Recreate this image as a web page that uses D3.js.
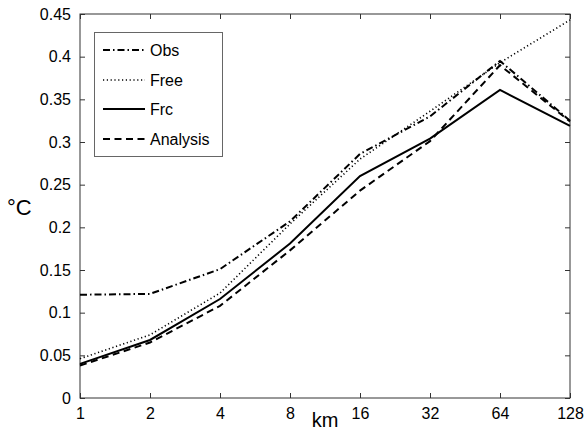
<!DOCTYPE html>
<html>
<head>
<meta charset="utf-8">
<script src="https://cdn.jsdelivr.net/npm/d3@7"></script>
<style>
  body { margin: 0; background: #fff; }
  text { font-family: "Liberation Sans", Arial, sans-serif; fill: #000; }
</style>
</head>
<body>
<svg id="chart" width="586" height="439"></svg>
<script>
// Horizontal scale (km), equally spaced on a log2 axis
const scales = ["1", "2", "4", "8", "16", "32", "64", "128"];

// Temperature error (°C) for each experiment
const obs      = [0.121, 0.122, 0.151, 0.207, 0.286, 0.330, 0.395, 0.325];
const free     = [0.046, 0.074, 0.123, 0.204, 0.280, 0.336, 0.393, 0.443];
const frc      = [0.040, 0.068, 0.116, 0.181, 0.260, 0.304, 0.361, 0.319];
const analysis = [0.038, 0.065, 0.108, 0.173, 0.243, 0.301, 0.390, 0.324];

const yTicks = [0, 0.05, 0.1, 0.15, 0.2, 0.25, 0.3, 0.35, 0.4, 0.45];
const yTickLabels = ["0", "0.05", "0.1", "0.15", "0.2", "0.25", "0.3", "0.35", "0.4", "0.45"];

const series = [
  { name: "Obs",      values: obs,      dash: "7,3,1.5,3", width: 2 },
  { name: "Free",     values: free,     dash: "1.2,2.6",   width: 1.6 },
  { name: "Frc",      values: frc,      dash: null,        width: 2 },
  { name: "Analysis", values: analysis, dash: "7,4.5",     width: 2 }
];

const svg = d3.select("#chart");
const plotL = 80, plotR = 570, plotT = 14, plotB = 398;

const x = d3.scalePoint().domain(scales).range([plotL, plotR]);
const y = d3.scaleLinear().domain([0, 0.45]).range([plotB, plotT]);

const tickLen = 5;
const axisColor = "#333";

// Bottom axis with inward ticks
const gx = svg.append("g").attr("transform", `translate(0,${plotB})`)
  .call(d3.axisBottom(x).tickSize(-tickLen).tickPadding(tickLen + 5));
// Left axis with inward ticks
const gy = svg.append("g").attr("transform", `translate(${plotL},0)`)
  .call(d3.axisLeft(y).tickValues(yTicks).tickFormat((d, i) => yTickLabels[i])
    .tickSize(-tickLen).tickPadding(tickLen + 4));
// Top and right axes: ticks only
const gt = svg.append("g").attr("transform", `translate(0,${plotT})`)
  .call(d3.axisTop(x).tickSize(-tickLen).tickFormat(""));
const gr = svg.append("g").attr("transform", `translate(${plotR},0)`)
  .call(d3.axisRight(y).tickValues(yTicks).tickSize(-tickLen).tickFormat(""));

[gx, gy, gt, gr].forEach(g => {
  g.select(".domain").remove();
  g.selectAll(".tick line").attr("stroke", axisColor);
  g.selectAll(".tick text")
    .style("font-family", '"Liberation Sans", Arial, sans-serif')
    .style("font-size", "16px").attr("fill", "#000");
});

// Plot frame
svg.append("rect")
  .attr("x", plotL).attr("y", plotT)
  .attr("width", plotR - plotL).attr("height", plotB - plotT)
  .attr("fill", "none").attr("stroke", axisColor).attr("stroke-width", 1);

// Data lines
const line = d3.line().x((d, i) => x(scales[i])).y(d => y(d));
series.forEach(s => {
  svg.append("path")
    .datum(s.values)
    .attr("d", line)
    .attr("fill", "none")
    .attr("stroke", "#000")
    .attr("stroke-width", s.width)
    .attr("stroke-dasharray", s.dash);
});

// Axis titles
svg.append("text").attr("x", (plotL + plotR) / 2).attr("y", 427)
  .attr("text-anchor", "middle").style("font-size", "20px").text("km");
svg.append("text").attr("x", 7).attr("y", 215)
  .style("font-size", "22px").text("°C");

// Legend
const lg = svg.append("g");
lg.append("rect").attr("x", 94.5).attr("y", 32.5).attr("width", 128).attr("height", 124)
  .attr("fill", "#fff").attr("stroke", "#666").attr("stroke-width", 1);
const rowY = [50, 80, 109, 139];
series.forEach((s, i) => {
  lg.append("line")
    .attr("x1", 103).attr("x2", 145)
    .attr("y1", rowY[i]).attr("y2", rowY[i])
    .attr("stroke", "#000").attr("stroke-width", s.width)
    .attr("stroke-dasharray", s.dash);
  lg.append("text").attr("x", 150).attr("y", rowY[i] + 6)
    .style("font-size", "16px").text(s.name);
});
</script>
</body>
</html>
